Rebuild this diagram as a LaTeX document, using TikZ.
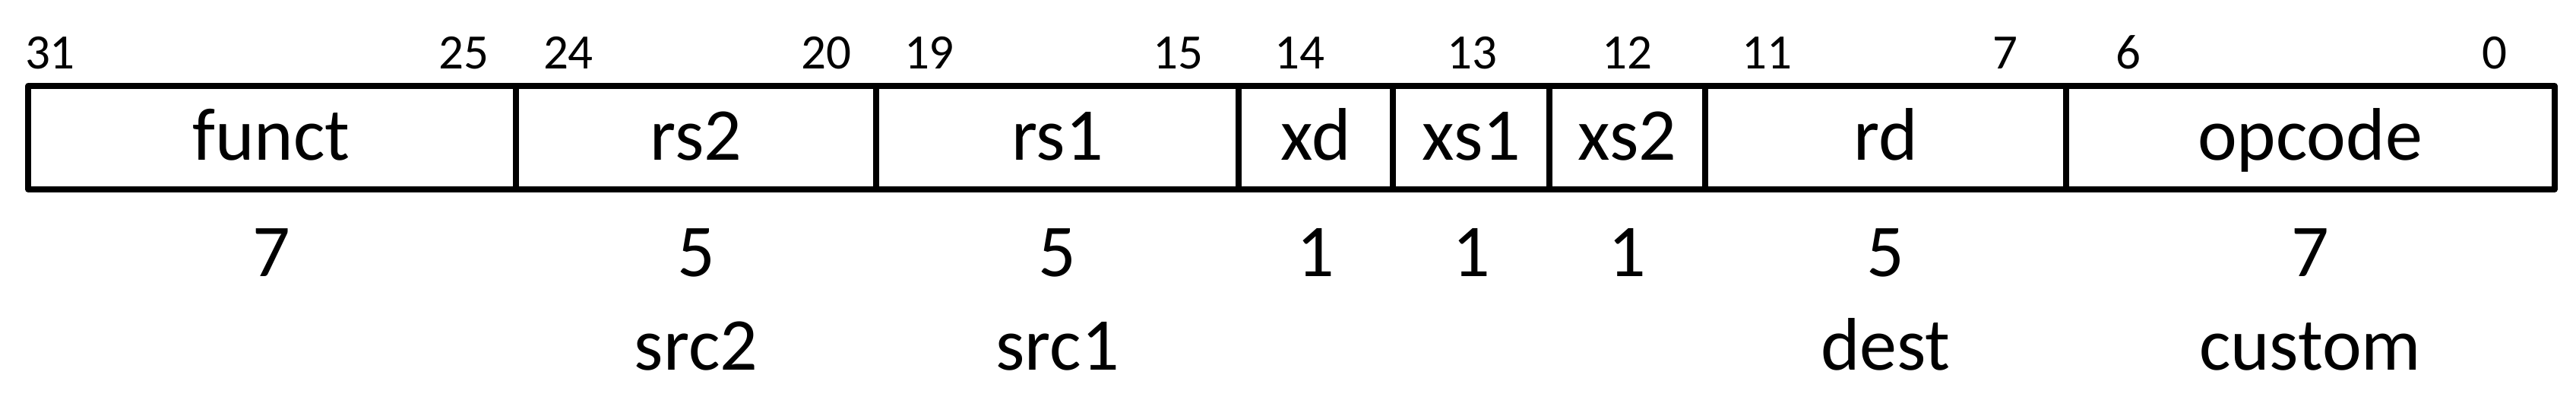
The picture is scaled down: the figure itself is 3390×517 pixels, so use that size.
\documentclass[tikz,border=0pt]{standalone}
\usepackage{fontspec}
\setmainfont{Carlito}
\begin{document}
\begin{tikzpicture}[x=0.1pt,y=-0.1pt,
  fieldbox/.style={draw=black, line width=0.75pt, line join=round},
  fname/.style={font=\fontsize{9.8}{11}\selectfont, anchor=base, inner sep=0pt},
  bitl/.style={font=\fontsize{6.5}{8}\selectfont, inner sep=0pt, anchor=base west},
  bitr/.style={font=\fontsize{6.5}{8}\selectfont, inner sep=0pt, anchor=base east},
  bitc/.style={font=\fontsize{6.5}{8}\selectfont, inner sep=0pt, anchor=base}]
\useasboundingbox (0,0) rectangle (3390,517);
% field boxes
\draw[fieldbox] (37,113) rectangle (679,249);
\draw[fieldbox] (679,113) rectangle (1153,249);
\draw[fieldbox] (1153,113) rectangle (1630,249);
\draw[fieldbox] (1630,113) rectangle (1833,249);
\draw[fieldbox] (1833,113) rectangle (2039,249);
\draw[fieldbox] (2039,113) rectangle (2244,249);
\draw[fieldbox] (2244,113) rectangle (2719,249);
\draw[fieldbox] (2719,113) rectangle (3362,249);
% field names
\node[fname] (funct) at (357,210) {funct};
\node[fname] (rs2) at (916,210) {rs2};
\node[fname] (rs1) at (1391.5,210) {rs1};
\node[fname] (xd) at (1731.5,210) {xd};
\node[fname] (xs1) at (1936,210) {xs1};
\node[fname] (xs2) at (2141.5,210) {xs2};
\node[fname] (rd) at (2481.5,210) {rd};
\node[fname] (opcode) at (3040,210) {opcode};
% bit positions
\node[bitl] (b31) at (31,90) {31};
\node[bitr] (b25) at (645,90) {25};
\node[bitl] (b24) at (713,90) {24};
\node[bitr] (b20) at (1122,90) {20};
\node[bitl] (b19) at (1188,90) {19};
\node[bitr] (b15) at (1585,90) {15};
\node[bitc] (b14) at (1710,90) {14};
\node[bitc] (b13) at (1937,90) {13};
\node[bitc] (b12) at (2141,90) {12};
\node[bitl] (b11) at (2290,90) {11};
\node[bitr] (b7) at (2657,90) {7};
\node[bitl] (b6) at (2782,90) {6};
\node[bitr] (b0) at (3301,90) {0};
% widths
\node[fname] (w1) at (357,363) {7};
\node[fname] (w2) at (916,363) {5};
\node[fname] (w3) at (1391.5,363) {5};
\node[fname] (w4) at (1731.5,363) {1};
\node[fname] (w5) at (1936,363) {1};
\node[fname] (w6) at (2141.5,363) {1};
\node[fname] (w7) at (2481.5,363) {5};
\node[fname] (w8) at (3040,363) {7};
% roles
\node[fname] (r2) at (916,486) {src2};
\node[fname] (r3) at (1391.5,486) {src1};
\node[fname] (r7) at (2481.5,486) {dest};
\node[fname] (r8) at (3040,486) {custom};
\end{tikzpicture}
\end{document}
